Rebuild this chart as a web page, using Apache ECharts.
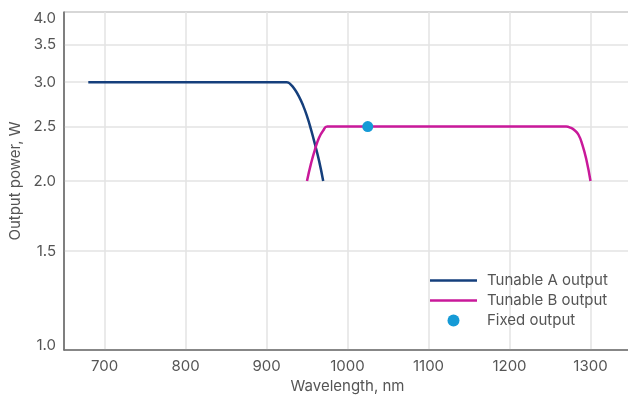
<!DOCTYPE html>
<html>
<head>
<meta charset="utf-8">
<style>
  html, body { margin: 0; padding: 0; background: #fff; }
  #chart { width: 628px; height: 396px; }
</style>
<script src="https://cdn.jsdelivr.net/npm/echarts@6/dist/echarts.min.js"></script>
</head>
<body>
<div id="chart"></div>
<script>
// Tunable A: wavelength (nm) and output power (W)
const tunableAWavelength = [680, 925, 930, 935, 940, 945, 950, 955, 960, 965, 970];
const tunableAPower      = [3.0, 3.0, 2.97, 2.91, 2.83, 2.73, 2.61, 2.47, 2.32, 2.17, 2.0];

// Tunable B: wavelength (nm) and output power (W)
const tunableBWavelength = [950, 955, 960, 965, 970, 975, 1270, 1275, 1280, 1285, 1290, 1295, 1300];
const tunableBPower      = [2.0, 2.15, 2.28, 2.39, 2.46, 2.5, 2.5, 2.49, 2.465, 2.42, 2.32, 2.18, 2.0];

// Fixed-wavelength output
const fixedWavelength = [1025];
const fixedPower      = [2.5];

const yTicks = [1.0, 1.5, 2.0, 2.5, 3.0, 3.5, 4.0];
const xTicks = [700, 800, 900, 1000, 1100, 1200, 1300];

const pairs = (xs, ys) => xs.map((x, i) => [x, ys[i]]);

const FONT = 'Inter';
const TEXT = '#555';
const FS = 15;

// thin horizontal bar inside a full-size box, used as the legend swatch for the lines
const LINE_ICON = 'path://M0,0M0,4.8H47V7.2H0ZM47,12';

const chart = echarts.init(document.getElementById('chart'), null, { renderer: 'canvas' });
chart.setOption({
  animation: false,
  textStyle: { fontFamily: FONT },
  grid: {
    left: 64, right: -3, top: 12, bottom: 46,
    outerBoundsMode: 'none', containLabel: false,
    show: true, borderColor: '#6e6e6e', borderWidth: 1, backgroundColor: 'transparent'
  },
  xAxis: {
    type: 'value', min: 650, max: 1350,
    name: 'Wavelength, nm', nameLocation: 'middle', nameGap: 27,
    nameTextStyle: { color: TEXT, fontSize: FS, fontFamily: FONT },
    axisLine: { show: true, lineStyle: { color: '#6e6e6e', width: 1.5 } },
    axisTick: { show: false, customValues: xTicks },
    axisLabel: {
      customValues: xTicks, color: TEXT, fontSize: FS, fontFamily: FONT, margin: 9,
      formatter: v => String(v)
    },
    splitLine: { show: true, lineStyle: { color: '#e3e3e3', width: 1.5 } }
  },
  yAxis: {
    type: 'log', logBase: 10, min: 1, max: 4,
    name: 'Output power, W', nameLocation: 'middle', nameGap: 34,
    nameTextStyle: { color: TEXT, fontSize: FS, fontFamily: FONT },
    axisLine: { show: true, lineStyle: { color: '#6e6e6e', width: 1.5 } },
    axisTick: { show: false, customValues: yTicks },
    axisLabel: {
      customValues: yTicks, color: TEXT, fontSize: FS, fontFamily: FONT, margin: 8,
      formatter: v => {
        const s = Number(v).toFixed(1);
        if (Math.abs(v - 1) < 1e-6) return '{lo|' + s + '}';
        if (Math.abs(v - 4) < 1e-6) return '{hi|' + s + '}';
        return s;
      },
      rich: {
        lo: { color: TEXT, fontSize: FS, fontFamily: FONT, padding: [0, 0, 10, 0] },
        hi: { color: TEXT, fontSize: FS, fontFamily: FONT, padding: [12, 0, 0, 0] }
      }
    },
    splitLine: { show: true, lineStyle: { color: '#e3e3e3', width: 1.5 } }
  },
  legend: {
    orient: 'vertical', left: 425, top: 268,
    itemWidth: 47, itemHeight: 12, itemGap: 5,
    symbolKeepAspect: false,
    textStyle: { color: TEXT, fontSize: FS, fontFamily: FONT, padding: [0, 0, 0, 5] },
    data: [
      { name: 'Tunable A output', icon: LINE_ICON },
      { name: 'Tunable B output', icon: LINE_ICON },
      { name: 'Fixed output', icon: 'circle' }
    ]
  },
  series: [
    {
      name: 'Tunable A output', type: 'line',
      data: pairs(tunableAWavelength, tunableAPower),
      showSymbol: false, symbol: 'none', smooth: 0.5,
      lineStyle: { color: '#153f7c', width: 2.5 }, itemStyle: { color: '#153f7c' }
    },
    {
      name: 'Tunable B output', type: 'line',
      data: pairs(tunableBWavelength, tunableBPower),
      showSymbol: false, symbol: 'none', smooth: 0.5,
      lineStyle: { color: '#c9199a', width: 2.5 }, itemStyle: { color: '#c9199a' }
    },
    {
      name: 'Fixed output', type: 'scatter',
      data: pairs(fixedWavelength, fixedPower),
      symbol: 'circle', symbolSize: 11, z: 5,
      itemStyle: { color: '#159ad6', opacity: 1 }
    }
  ]
});
</script>
</body>
</html>
